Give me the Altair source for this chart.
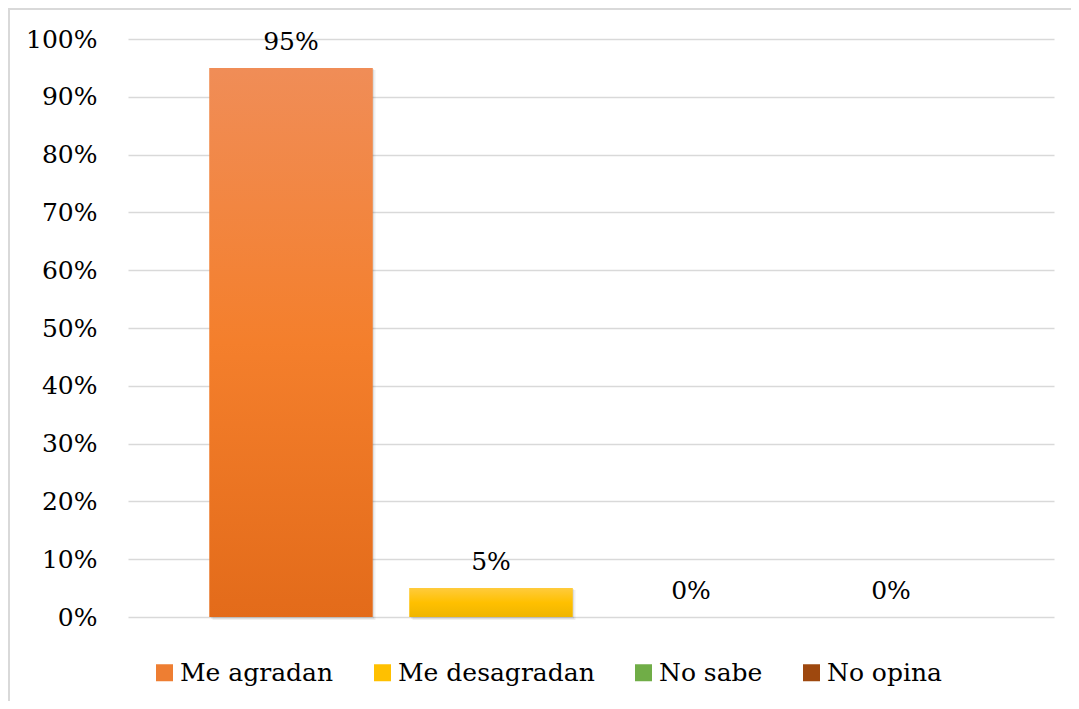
import altair as alt
import pandas as pd

series = ["Me agradan", "Me desagradan", "No sabe", "No opina"]
values = [0.95, 0.05, 0.0, 0.0]
labels = ["95%", "5%", "0%", "0%"]
colors = ["#EE7E32", "#FFC000", "#70AD47", "#9E480E"]
gradient_stops = [
    [("#F08D57", 0.0), ("#F47F2C", 0.5), ("#E36B1A", 1.0)],
    [("#FFCB3C", 0.0), ("#FFC000", 0.5), ("#EFB500", 1.0)],
    [("#7CB955", 0.0), ("#70AD47", 0.5), ("#64A03C", 1.0)],
    [("#A8582A", 0.0), ("#9E480E", 0.5), ("#8F3F0A", 1.0)],
]
y_ticks = [0.0, 0.1, 0.2, 0.3, 0.4, 0.5, 0.6, 0.7, 0.8, 0.9, 1.0]

df = pd.DataFrame({"serie": series, "valor": values, "etiqueta": labels})

FONT = "DejaVu Serif"

x_enc = alt.X(
    "serie:N",
    sort=series,
    axis=None,
    scale=alt.Scale(domain=series, paddingInner=0.185, paddingOuter=0.4075),
)
y_enc = alt.Y(
    "valor:Q",
    scale=alt.Scale(domain=[0, 1], nice=False, zero=True),
    axis=alt.Axis(
        values=y_ticks,
        format=".0%",
        title=None,
        ticks=False,
        domain=False,
        labelFont=FONT,
        labelFontSize=25,
        labelColor="#000000",
        labelPadding=31,
        gridColor="#D9D9D9",
        gridWidth=1.5,
    ),
)

base = alt.Chart(df)

border = base.mark_rect(
    fill="transparent", stroke="#D9D9D9", strokeWidth=2
).encode(
    x=alt.value(-119), x2=alt.value(1000), y=alt.value(-30), y2=alt.value(720)
)

shadow1 = base.transform_filter(alt.datum.valor > 0).mark_bar(
    color="#000000", opacity=0.06, xOffset=3, x2Offset=3, yOffset=2, y2Offset=3
).encode(x=x_enc, y=y_enc, y2=alt.datum(0))

shadow2 = base.transform_filter(alt.datum.valor > 0).mark_bar(
    color="#000000", opacity=0.08, xOffset=1.5, x2Offset=1.5, yOffset=1, y2Offset=1.5
).encode(x=x_enc, y=y_enc, y2=alt.datum(0))

legend_layer = base.mark_bar().encode(
    x=x_enc,
    y=y_enc,
    color=alt.Color(
        "serie:N",
        sort=series,
        scale=alt.Scale(domain=series, range=colors),
        legend=alt.Legend(
            title=None,
            orient="none",
            legendX=24,
            legendY=621,
            direction="horizontal",
            columns=4,
            columnPadding=36,
            symbolType="square",
            symbolSize=289,
            symbolStrokeWidth=0,
            labelFont=FONT,
            labelFontSize=25,
            labelColor="#000000",
            labelOffset=3,
            labelLimit=400,
        ),
    ),
)

grad_layers = []
for s, stops in zip(series, gradient_stops):
    grad_layers.append(
        base.transform_filter(alt.datum.serie == s)
        .mark_bar(
            color=alt.Gradient(
                gradient="linear",
                stops=[alt.GradientStop(color=c, offset=o) for c, o in stops],
                x1=0, x2=0, y1=0, y2=1,
            )
        )
        .encode(x=x_enc, y=y_enc)
    )

text = base.mark_text(
    font=FONT, fontSize=25, color="#000000", baseline="alphabetic", dy=-18
).encode(x=x_enc, y=y_enc, text="etiqueta:N")

chart = alt.layer(
    border, shadow1, shadow2, legend_layer, *grad_layers, text
).properties(
    width=926,
    height=578,
    padding={"left": 120, "top": 31, "right": 17, "bottom": 84},
    autosize=alt.AutoSizeParams(type="none"),
).configure_view(stroke=None)

chart.save("out.html", embed_options={"renderer": "svg", "actions": False})
